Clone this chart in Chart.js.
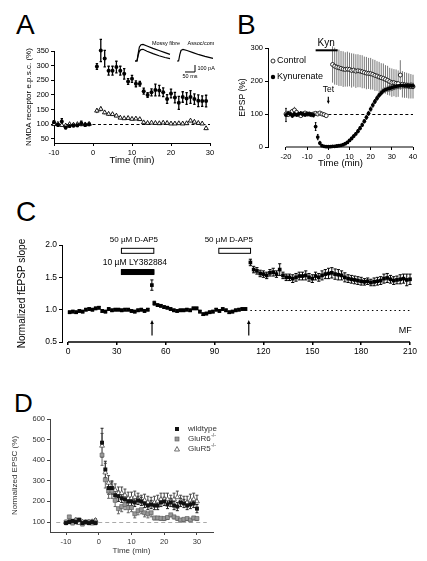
<!DOCTYPE html>
<html>
<head>
<meta charset="utf-8">
<title>Figure</title>
<script src="https://cdn.jsdelivr.net/npm/chart.js@4.4.1/dist/chart.umd.min.js"></script>
<style>
  body { margin: 0; background: #fff; }
  #page { position: relative; width: 427px; height: 561px; overflow: hidden; font-family: "Liberation Sans", Arial, sans-serif; }
  #page canvas { position: absolute; }
  .letter { position: absolute; font-size: 28px; line-height: 28px; color: #000; }
</style>
</head>
<body>
<div id="page">
  <div class="letter" style="left:16px;top:11px">A</div>
  <div class="letter" style="left:237px;top:11px">B</div>
  <div class="letter" style="left:16px;top:198px">C</div>
  <div class="letter" style="left:14px;top:390px;font-size:26px;line-height:26px">D</div>
  <canvas id="chartA" width="220" height="170" style="left:0;top:0"></canvas>
  <canvas id="inset" width="90" height="46" style="left:130px;top:36px"></canvas>
  <canvas id="chartB" width="212" height="170" style="left:215px;top:0"></canvas>
  <canvas id="chartC" width="427" height="182" style="left:0;top:180px"></canvas>
  <canvas id="chartD" width="227" height="191" style="left:0;top:370px"></canvas>
</div>
<script>
/*--------------------- Panel A: NMDA receptor e.p.s.c. ---------------------*/
const aTime = [-10, -9, -8, -7, -6, -5, -4, -3, -2, -1,
  1, 2, 3, 4, 5, 6, 7, 8, 9, 10, 11, 12, 13, 14, 15, 16, 17, 18, 19, 20,
  21, 22, 23, 24, 25, 26, 27, 28, 29];
const aMossy = [107, 98, 109, 89, 94, 96, 97, 103, 98, 100,
  297, 352, 324, 283, 283, 295, 283, 272, 246, 255, 238, 238, 213, 200, 209, 217, 215, 209, 186, 205,
  191, 173, 193, 188, 193, 186, 180, 179, 179];
const aMossyErr = [5, 5, 10, 5, 5, 5, 5, 8, 5, 5,
  10, 38, 28, 15, 15, 20, 15, 18, 10, 12, 10, 8, 10, 8, 12, 20, 18, 15, 15, 15,
  18, 22, 18, 20, 22, 18, 20, 18, 20];
const aAssoc = [100, 101, 97, 95, 100, 98, 100, 101, 99, 101,
  146, 152, 140, 135, 134, 129, 122, 120, 121, 118, 119, 117, 106, 104, 105, 104, 103, 105, 104, 102,
  102, 103, 102, 103, 112, 108, 104, 102, 86];
const aAssocErr = [4, 4, 4, 4, 4, 4, 4, 4, 4, 4,
  8, 8, 6, 6, 5, 5, 5, 5, 5, 5, 5, 5, 4, 4, 4, 4, 4, 4, 4, 4,
  4, 4, 4, 4, 5, 5, 4, 4, 6];
const aXTicks = [-10, 0, 10, 20, 30];
const aYTicks = [50, 100, 150, 200, 250, 300, 350];

// inset traces (ms, pA)
const mfTime = [0, 10, 16, 22, 30, 40, 60, 90, 120, 150, 175];
const mfUpper = [0, 0, 110, 200, 232, 238, 215, 180, 150, 120, 95];
const mfLower = [0, 0, 80, 140, 162, 167, 140, 105, 75, 50, 33];
const acTime = [0, 8, 14, 20, 30, 50, 80, 110, 140, 180];
const acTrace = [0, 0, 90, 150, 167, 150, 120, 90, 65, 38];
const acOffset = 210;

/*--------------------- Panel B: EPSP, Kyn ---------------------*/
const bCtrlTime = [-20, -19, -18, -17, -16, -15, -14, -13, -12, -11, -10, -9, -8, -7, -6, -5, -4, -3, -2, -1,
  2, 3, 4, 5, 6, 7, 8, 9, 10, 11, 12, 13, 14, 15, 16, 17, 18, 19, 20, 21,
  22, 23, 24, 25, 26, 27, 28, 29, 30, 31, 32, 33, 34, 35, 36, 37, 38, 39, 40];
const bCtrl = [100, 98, 103, 108, 112, 105, 98, 95, 100, 103, 100, 100, 98, 100, 102, 100, 103, 100, 98, 95,
  250, 245, 242, 240, 238, 236, 235, 236, 235, 232, 233, 230, 231, 230, 228, 226, 224, 223, 222, 220,
  217, 215, 212, 210, 208, 205, 202, 198, 195, 195, 193, 192, 218, 190, 188, 187, 185, 184, 183];
const bCtrlErr = [5, 5, 6, 6, 10, 8, 5, 5, 5, 5, 5, 5, 5, 5, 5, 5, 5, 5, 5, 5,
  55, 56, 54, 55, 53, 54, 52, 53, 51, 52, 50, 51, 50, 49, 50, 48, 49, 47, 48, 46,
  47, 45, 46, 44, 45, 43, 44, 42, 43, 41, 42, 40, 45, 40, 39, 38, 38, 37, 36];
const bKynTime = [-20, -19, -18, -17, -16, -15, -14, -13, -12, -11, -10, -9, -8, -7, -6, -5, -4, -3, -2, -1,
  0, 1, 2, 3, 4, 5, 6, 7, 8, 9, 10, 11, 12, 13, 14, 15, 16, 17, 18, 19,
  20, 21, 22, 23, 24, 25, 26, 27, 28, 29, 30, 31, 32, 33, 34, 35, 36, 37, 38, 39, 40];
const bKyn = [97, 102, 100, 95, 100, 98, 100, 102, 100, 98, 100, 100, 98, 97, 62, 30, 12, 4, 2, 1,
  1, 1, 2, 2, 3, 4, 5, 7, 10, 14, 20, 26, 33, 40, 48, 57, 67, 78, 90, 102,
  115, 127, 138, 148, 157, 164, 170, 174, 176, 178, 180, 182, 184, 185, 186, 186, 185, 186, 185, 186, 185];
const bKynErr = [20, 6, 5, 5, 6, 5, 5, 5, 5, 5, 5, 5, 5, 6, 12, 8, 5, 3, 2, 2,
  2, 2, 2, 2, 2, 2, 2, 3, 3, 3, 3, 4, 4, 4, 5, 5, 5, 5, 6, 6,
  6, 6, 6, 6, 6, 6, 6, 6, 8, 8, 8, 8, 8, 8, 8, 8, 8, 8, 8, 8, 8];
const bXTicks = [-20, -10, 0, 10, 20, 30, 40];
const bYTicks = [0, 100, 200, 300];

/*--------------------- Panel C: fEPSP slope ---------------------*/
const cTime = [1, 3, 5, 7, 9, 11, 13, 15, 17, 19, 21, 23, 25, 27, 29, 31, 33, 35, 37, 39, 41, 43, 45, 47, 49,
  51.5,
  53, 55, 57, 59, 61, 63, 65, 67, 69, 71, 73, 75, 77, 79, 81, 83, 85, 87, 89, 91, 93, 95, 97, 99,
  101, 103, 105, 107, 109,
  112, 114, 116, 118, 120, 122, 124, 126, 128, 130, 132, 134, 136, 138, 140, 142, 144, 146, 148, 150,
  152, 154, 156, 158, 160, 162, 164, 166, 168, 170, 172, 174, 176, 178, 180, 182, 184, 186, 188, 190,
  192, 194, 196, 198, 200, 202, 204, 206, 208, 210];
const cSlope = [0.96, 0.97, 0.96, 0.98, 0.97, 1.0, 1.01, 1.0, 1.02, 1.03, 0.98, 0.97, 1.01, 0.99, 1.0,
  1.0, 0.99, 1.0, 1.0, 0.98, 0.97, 0.99, 1.0, 0.98, 1.0,
  1.38,
  1.1, 1.07, 1.06, 1.04, 1.03, 1.01, 0.99, 0.98, 0.99, 0.99, 1.0, 0.99, 1.02, 1.02, 0.97,
  0.93, 0.94, 0.96, 0.97, 1.0, 0.98, 1.01, 0.99, 0.96, 0.97, 0.99, 1.0, 1.01, 1.01,
  1.73, 1.62, 1.6, 1.56, 1.55, 1.53, 1.57, 1.58, 1.55, 1.62, 1.53, 1.5, 1.5, 1.48, 1.5,
  1.52, 1.52, 1.53, 1.5, 1.48, 1.52, 1.5, 1.53, 1.55, 1.56, 1.57, 1.55, 1.54, 1.53, 1.5,
  1.48, 1.47, 1.46, 1.45, 1.44, 1.43, 1.44, 1.42, 1.43, 1.44, 1.45, 1.48, 1.49, 1.47, 1.45,
  1.46, 1.47, 1.48, 1.46, 1.47];
const cErr = [0.02, 0.02, 0.02, 0.02, 0.02, 0.02, 0.02, 0.02, 0.02, 0.02, 0.02, 0.02, 0.02, 0.02, 0.02,
  0.02, 0.02, 0.02, 0.02, 0.02, 0.02, 0.02, 0.02, 0.02, 0.02,
  0.08,
  0.03, 0.02, 0.02, 0.02, 0.02, 0.02, 0.02, 0.02, 0.02, 0.02, 0.02, 0.02, 0.02, 0.02, 0.02,
  0.02, 0.02, 0.02, 0.02, 0.02, 0.02, 0.02, 0.02, 0.02, 0.02, 0.02, 0.02, 0.02, 0.02,
  0.05, 0.05, 0.05, 0.05, 0.05, 0.05, 0.05, 0.06, 0.05, 0.09, 0.05, 0.05, 0.05, 0.06, 0.06,
  0.06, 0.06, 0.07, 0.06, 0.06, 0.06, 0.06, 0.07, 0.07, 0.08, 0.08, 0.08, 0.08, 0.07, 0.07,
  0.06, 0.06, 0.06, 0.06, 0.06, 0.05, 0.05, 0.05, 0.06, 0.06, 0.06, 0.07, 0.07, 0.06, 0.06,
  0.06, 0.07, 0.07, 0.09, 0.08];
const cXTicks = [0, 30, 60, 90, 120, 150, 180, 210];
const cYTicks = [0.5, 1.0, 1.5, 2.0];

/*--------------------- Panel D: normalized EPSC ---------------------*/
const dTime = [-10, -9, -8, -7, -6, -5, -4, -3, -2, -1,
  1, 2, 3, 4, 5, 6, 7, 8, 9, 10, 11, 12, 13, 14, 15, 16, 17, 18, 19, 20,
  21, 22, 23, 24, 25, 26, 27, 28, 29, 30];
const dWild = [95, 100, 105, 100, 110, 95, 100, 95, 100, 95,
  485, 355, 265, 265, 230, 225, 215, 210, 200, 200, 195, 205, 200, 190, 180, 185, 180, 180, 195, 200,
  185, 195, 180, 175, 195, 190, 180, 185, 190, 165];
const dWildErr = [8, 8, 8, 8, 8, 8, 8, 8, 8, 8,
  70, 40, 30, 30, 25, 25, 20, 20, 20, 20, 20, 20, 20, 20, 20, 20, 20, 20, 20, 20,
  20, 20, 20, 20, 20, 20, 20, 20, 20, 20];
const dR6 = [100, 125, 95, 105, 110, 90, 100, 100, 95, 100,
  425, 305, 250, 250, 205, 165, 175, 185, 170, 170, 140, 155, 160, 145, 140, 145, 120, 120, 118, 117,
  122, 135, 125, 118, 110, 113, 117, 110, 120, 117];
const dR6Err = [8, 8, 8, 8, 8, 8, 8, 8, 8, 8,
  50, 40, 35, 35, 30, 25, 25, 25, 25, 20, 20, 20, 20, 20, 20, 20, 10, 10, 10, 10,
  10, 10, 10, 10, 10, 10, 10, 10, 10, 10];
const dR5 = [98, 102, 100, 110, 95, 100, 98, 100, 102, 108,
  470, 340, 290, 270, 255, 240, 240, 230, 215, 215, 220, 210, 200, 205, 195, 190, 195, 200, 210, 210,
  210, 200, 210, 220, 200, 195, 195, 205, 210, 200];
const dR5Err = [8, 8, 8, 8, 8, 8, 8, 8, 8, 8,
  60, 45, 35, 30, 30, 30, 30, 30, 30, 30, 30, 30, 30, 30, 30, 30, 30, 30, 30, 30,
  30, 30, 30, 30, 30, 30, 30, 30, 30, 30];
const dXTicks = [-10, 0, 10, 20, 30];
const dYTicks = [100, 200, 300, 400, 500, 600];

/*--------------------- helpers ---------------------*/
const FONT = '"Liberation Sans", Arial, sans-serif';
Chart.defaults.font.family = FONT;
Chart.defaults.color = '#000';
Chart.defaults.animation = false;
Chart.defaults.events = [];
Chart.defaults.plugins.legend.display = false;
Chart.defaults.plugins.tooltip.enabled = false;

function series(xs, ys, style) {
  return Object.assign({ data: xs.map((x, i) => ({ x, y: ys[i] })), clip: false, showLine: false }, style);
}

function linScale(o) {
  const color = o.color || '#000';
  return {
    type: 'linear', min: o.min, max: o.max, display: o.display !== false,
    afterBuildTicks: s => { if (o.ticks) s.ticks = o.ticks.map(v => ({ value: v })); },
    afterFit: s => {
      if (o.horizontal) s.height = o.size; else s.width = o.size;
      s.paddingLeft = s.paddingRight = s.paddingTop = s.paddingBottom = 0;
    },
    border: { display: o.border !== false, color, width: o.lineWidth || 1 },
    grid: { drawOnChartArea: false, drawTicks: true, tickLength: 3, color, lineWidth: o.lineWidth || 1 },
    ticks: { font: { size: o.tickSize }, color: o.textColor || color, padding: 2, maxRotation: 0, autoSkip: false,
      callback: o.fmt || (v => String(v)) },
    title: { display: !!o.title, text: o.title, font: { size: o.titleSize }, color: o.textColor || color, padding: 0 }
  };
}

function hline(chart, yv, x0, x1, dash, color, w) {
  const { ctx, scales: { x, y } } = chart;
  ctx.save();
  ctx.setLineDash(dash);
  ctx.strokeStyle = color;
  ctx.lineWidth = w || 1;
  ctx.beginPath();
  ctx.moveTo(x.getPixelForValue(x0), Math.round(y.getPixelForValue(yv)) + 0.5);
  ctx.lineTo(x.getPixelForValue(x1), Math.round(y.getPixelForValue(yv)) + 0.5);
  ctx.stroke();
  ctx.restore();
}

function bottomAxis(chart, x0, x1, w) {
  const { ctx, chartArea, scales: { x } } = chart;
  ctx.save();
  ctx.strokeStyle = '#000';
  ctx.lineWidth = w;
  ctx.beginPath();
  ctx.moveTo(x.getPixelForValue(x0), chartArea.bottom);
  ctx.lineTo(x.getPixelForValue(x1), chartArea.bottom);
  ctx.stroke();
  ctx.restore();
}

function text(ctx, str, px, py, size, align, color) {
  ctx.save();
  ctx.font = size + 'px ' + FONT;
  ctx.fillStyle = color || '#000';
  ctx.textAlign = align || 'center';
  ctx.textBaseline = 'middle';
  ctx.fillText(str, px, py);
  ctx.restore();
}

function arrow(ctx, px, yTail, yTip, head) {
  const dir = yTip < yTail ? 1 : -1;
  ctx.save();
  ctx.strokeStyle = '#000';
  ctx.fillStyle = '#000';
  ctx.lineWidth = 1.2;
  ctx.beginPath();
  ctx.moveTo(px, yTail);
  ctx.lineTo(px, yTip + dir * head);
  ctx.stroke();
  ctx.beginPath();
  ctx.moveTo(px, yTip);
  ctx.lineTo(px - head * 0.6, yTip + dir * head * 1.3);
  ctx.lineTo(px + head * 0.6, yTip + dir * head * 1.3);
  ctx.closePath();
  ctx.fill();
  ctx.restore();
}

// error bars for any dataset carrying an "errors" array
const errorBars = {
  id: 'errorBars',
  beforeDatasetsDraw(chart) {
    const { ctx, scales: { y } } = chart;
    chart.data.datasets.forEach((ds, i) => {
      if (!ds.errors) return;
      const meta = chart.getDatasetMeta(i);
      ctx.save();
      ctx.strokeStyle = ds.errorColor || '#000';
      ctx.lineWidth = ds.errorWidth || 1;
      meta.data.forEach((pt, j) => {
        const e = ds.errors[j];
        if (!e) return;
        const v = ds.data[j].y;
        const hi = y.getPixelForValue(ds.errorDir === 'down' ? v : v + e);
        const lo = y.getPixelForValue(ds.errorDir === 'up' ? v : v - e);
        const c = ds.errorCap || 0;
        ctx.beginPath();
        ctx.moveTo(pt.x, hi);
        ctx.lineTo(pt.x, lo);
        if (c) {
          if (ds.errorDir !== 'down') { ctx.moveTo(pt.x - c, hi); ctx.lineTo(pt.x + c, hi); }
          if (ds.errorDir !== 'up') { ctx.moveTo(pt.x - c, lo); ctx.lineTo(pt.x + c, lo); }
        }
        ctx.stroke();
      });
      ctx.restore();
    });
  }
};
Chart.register(errorBars);

/*--------------------- Panel A ---------------------*/
new Chart(document.getElementById('chartA'), {
  type: 'scatter',
  data: {
    datasets: [
      series(aTime, aMossy, { errors: aMossyErr, errorCap: 1.2, errorWidth: 1.3, pointStyle: 'circle', pointRadius: 2,
        backgroundColor: '#000', borderColor: '#000', borderWidth: 0 }),
      series(aTime, aAssoc, { errors: aAssocErr, pointStyle: 'triangle', pointRadius: 2.6,
        backgroundColor: '#fff', borderColor: '#000', borderWidth: 0.9 })
    ]
  },
  options: {
    responsive: false,
    layout: { padding: { left: 24, top: 51, right: 10, bottom: 4 } },
    scales: {
      x: linScale({ min: -10, max: 30, ticks: aXTicks, horizontal: true, size: 23, title: 'Time (min)', titleSize: 9.5, tickSize: 7.5 }),
      y: linScale({ min: 36, max: 350, ticks: aYTicks, size: 30, title: 'NMDA receptor e.p.s.c. (%)', titleSize: 8, tickSize: 7.5 })
    }
  },
  plugins: [{ id: 'refA', beforeDatasetsDraw: c => hline(c, 100, -10, 30, [3, 2.5], '#000', 1) }]
});

// inset: example current traces with scale bar
new Chart(document.getElementById('inset'), {
  type: 'scatter',
  data: {
    datasets: [
      series(mfTime, mfUpper, { showLine: true, pointRadius: 0, borderColor: '#000', borderWidth: 1.2 }),
      series(mfTime, mfLower, { showLine: true, pointRadius: 0, borderColor: '#000', borderWidth: 1.2 }),
      series(acTime.map(t => t + acOffset), acTrace, { showLine: true, pointRadius: 0, borderColor: '#000', borderWidth: 1.2 })
    ]
  },
  options: {
    responsive: false,
    layout: { padding: 0 },
    scales: {
      x: { type: 'linear', min: -25, max: 425, display: false },
      y: { type: 'linear', min: -300, max: 357, display: false }
    }
  },
  plugins: [{
    id: 'insetLabels',
    afterDraw(chart) {
      const { ctx, scales: { x, y } } = chart;
      ctx.save();
      ctx.strokeStyle = '#000';
      ctx.lineWidth = 1;
      ctx.beginPath();
      ctx.moveTo(x.getPixelForValue(300), y.getPixelForValue(-57));
      ctx.lineTo(x.getPixelForValue(300), y.getPixelForValue(-157));
      ctx.lineTo(x.getPixelForValue(250), y.getPixelForValue(-157));
      ctx.stroke();
      ctx.restore();
      text(ctx, 'Mossy fibre', x.getPixelForValue(155), y.getPixelForValue(257), 5.5);
      text(ctx, 'Assoc/com', x.getPixelForValue(330), y.getPixelForValue(257), 5.5);
      text(ctx, '100 pA', x.getPixelForValue(312), y.getPixelForValue(-100), 5.5, 'left');
      text(ctx, '50 ms', x.getPixelForValue(275), y.getPixelForValue(-225), 5.5);
    }
  }]
});

/*--------------------- Panel B ---------------------*/
new Chart(document.getElementById('chartB'), {
  type: 'scatter',
  data: {
    datasets: [
      series(bKynTime, bKyn, { errors: bKynErr, errorCap: 0.8, pointStyle: 'circle', pointRadius: 1.9,
        backgroundColor: '#000', borderColor: '#000', borderWidth: 0 }),
      series(bCtrlTime, bCtrl, { errors: bCtrlErr, errorColor: '#777', pointStyle: 'circle', pointRadius: 2,
        backgroundColor: '#fff', borderColor: '#000', borderWidth: 0.8 })
    ]
  },
  options: {
    responsive: false,
    layout: { padding: { left: 23, top: 48, right: 14, bottom: 1 } },
    scales: {
      x: linScale({ min: -28.5, max: 40, ticks: bXTicks, horizontal: true, size: 22, border: false, title: 'Time (min)', titleSize: 9.5, tickSize: 7.5 }),
      y: linScale({ min: 0, max: 300, ticks: bYTicks, size: 30, title: 'EPSP (%)', titleSize: 8.5, tickSize: 7.5 })
    }
  },
  plugins: [{
    id: 'extrasB',
    beforeDatasetsDraw: c => hline(c, 100, 0, 40, [3, 2.5], '#000', 1),
    afterDraw(chart) {
      const { ctx, scales: { x, y } } = chart;
      bottomAxis(chart, -20, 40, 1);
      // Kyn application bar
      ctx.save();
      ctx.strokeStyle = '#000';
      ctx.lineWidth = 2;
      ctx.beginPath();
      ctx.moveTo(x.getPixelForValue(-6), y.getPixelForValue(293));
      ctx.lineTo(x.getPixelForValue(4.4), y.getPixelForValue(293));
      ctx.stroke();
      ctx.restore();
      text(ctx, 'Kyn', x.getPixelForValue(-1), y.getPixelForValue(315), 10);
      text(ctx, 'Tet', x.getPixelForValue(0), y.getPixelForValue(173), 8.5);
      arrow(ctx, x.getPixelForValue(0), y.getPixelForValue(152), y.getPixelForValue(130), 2.5);
      // legend
      ctx.save();
      ctx.lineWidth = 0.8;
      ctx.strokeStyle = '#000';
      ctx.fillStyle = '#fff';
      ctx.beginPath(); ctx.arc(58, 61, 2, 0, Math.PI * 2); ctx.fill(); ctx.stroke();
      ctx.fillStyle = '#000';
      ctx.beginPath(); ctx.arc(58, 77, 2.2, 0, Math.PI * 2); ctx.fill();
      ctx.restore();
      text(ctx, 'Control', 62, 61, 9, 'left');
      text(ctx, 'Kynurenate', 62, 77, 9, 'left');
    }
  }]
});

/*--------------------- Panel C ---------------------*/
new Chart(document.getElementById('chartC'), {
  type: 'scatter',
  data: {
    datasets: [
      series(cTime, cSlope, { errors: cErr, errorCap: 1.6, pointStyle: 'rect', pointRadius: 2.6,
        backgroundColor: '#000', borderColor: '#000', borderWidth: 0 })
    ]
  },
  options: {
    responsive: false,
    layout: { padding: { left: 16, top: 65, right: 17, bottom: 4 } },
    scales: {
      x: linScale({ min: -3.68, max: 210, ticks: cXTicks, horizontal: true, size: 16, border: false, tickSize: 8.5, lineWidth: 1.5 }),
      y: linScale({ min: 0.5, max: 2.0, ticks: cYTicks, size: 46, title: 'Normalized fEPSP slope', titleSize: 10, tickSize: 8.5,
        fmt: v => v.toFixed(1) })
    }
  },
  plugins: [{
    id: 'extrasC',
    beforeDatasetsDraw: c => hline(c, 1.0, 112, 210, [1.5, 3], '#000', 1),
    afterDraw(chart) {
      const { ctx, scales: { x, y } } = chart;
      bottomAxis(chart, 0, 210, 1.5);
      const bar = (x0, x1, yv, filled) => {
        const px0 = x.getPixelForValue(x0), px1 = x.getPixelForValue(x1), py = y.getPixelForValue(yv);
        ctx.save();
        ctx.fillStyle = filled ? '#000' : '#fff';
        ctx.strokeStyle = '#000';
        ctx.lineWidth = 1;
        ctx.fillRect(px0, py - 2.5, px1 - px0, 5);
        ctx.strokeRect(px0 + 0.5, py - 2.5, px1 - px0 - 1, 5);
        ctx.restore();
      };
      bar(32.5, 53, 1.91, false);
      bar(32.5, 53, 1.582, true);
      bar(92.3, 112.4, 1.91, false);
      text(ctx, '50 \u00b5M D-AP5', x.getPixelForValue(40.5), y.getPixelForValue(2.077), 8);
      text(ctx, '10 \u00b5M LY382884', x.getPixelForValue(41.1), y.getPixelForValue(1.722), 8.5);
      text(ctx, '50 \u00b5M D-AP5', x.getPixelForValue(98.7), y.getPixelForValue(2.077), 8);
      arrow(ctx, x.getPixelForValue(51.6), y.getPixelForValue(0.6), y.getPixelForValue(0.84), 3);
      arrow(ctx, x.getPixelForValue(111), y.getPixelForValue(0.6), y.getPixelForValue(0.84), 3);
      text(ctx, 'MF', x.getPixelForValue(211), y.getPixelForValue(0.67), 9, 'right');
    }
  }]
});

/*--------------------- Panel D ---------------------*/
new Chart(document.getElementById('chartD'), {
  type: 'scatter',
  data: {
    datasets: [
      series(dTime, dWild, { errors: dWildErr, errorCap: 1.5, errorColor: '#222', pointStyle: 'rect', pointRadius: 2.8,
        backgroundColor: '#111', borderColor: '#111', borderWidth: 0 }),
      series(dTime, dR6, { errors: dR6Err, errorDir: 'down', errorCap: 1.5, errorColor: '#666', pointStyle: 'rect', pointRadius: 2.8,
        backgroundColor: '#999', borderColor: '#555', borderWidth: 0.6 }),
      series(dTime, dR5, { errors: dR5Err, errorDir: 'up', errorCap: 1.5, errorColor: '#444', pointStyle: 'triangle', pointRadius: 2.8,
        backgroundColor: '#fff', borderColor: '#333', borderWidth: 0.7 })
    ]
  },
  options: {
    responsive: false,
    layout: { padding: { left: 10, top: 49, right: 14, bottom: 5 } },
    scales: {
      x: linScale({ min: -14.9, max: 34.9, ticks: dXTicks, horizontal: true, size: 24, title: 'Time (min)', titleSize: 8, tickSize: 7.5,
        color: '#444', textColor: '#333' }),
      y: linScale({ min: 51.5, max: 600, ticks: dYTicks, size: 40, title: 'Normalized EPSC (%)', titleSize: 8, tickSize: 7.5,
        color: '#444', textColor: '#333' })
    }
  },
  plugins: [{
    id: 'extrasD',
    beforeDatasetsDraw: c => hline(c, 100, -13, 33, [4, 3], '#aaa', 1),
    afterDraw(chart) {
      const { ctx } = chart;
      ctx.save();
      ctx.fillStyle = '#111';
      ctx.fillRect(175, 57, 4, 4);
      ctx.fillStyle = '#999';
      ctx.strokeStyle = '#555';
      ctx.lineWidth = 0.6;
      ctx.fillRect(175, 67, 4, 4);
      ctx.strokeRect(175, 67, 4, 4);
      ctx.fillStyle = '#fff';
      ctx.strokeStyle = '#333';
      ctx.lineWidth = 0.7;
      ctx.beginPath();
      ctx.moveTo(177, 76.5); ctx.lineTo(179.5, 81); ctx.lineTo(174.5, 81); ctx.closePath();
      ctx.fill(); ctx.stroke();
      ctx.restore();
      text(ctx, 'wildtype', 188, 59, 8, 'left', '#333');
      const sup = (base, py) => {
        text(ctx, base, 188, py, 8, 'left', '#333');
        ctx.save();
        ctx.font = '8px ' + FONT;
        const w = ctx.measureText(base).width;
        ctx.restore();
        text(ctx, '-/-', 188 + w + 0.5, py - 3, 5, 'left', '#333');
      };
      sup('GluR6', 69);
      sup('GluR5', 79);
    }
  }]
});
</script>
</body>
</html>
